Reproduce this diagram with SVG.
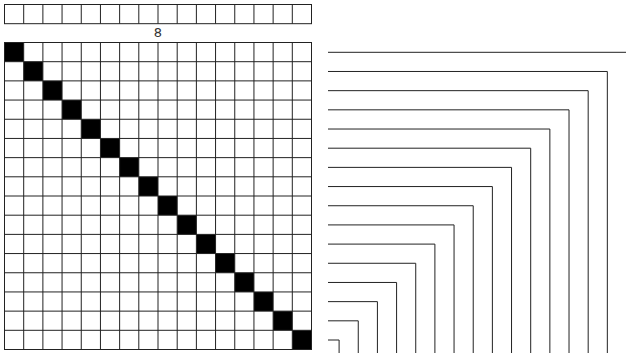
<svg xmlns="http://www.w3.org/2000/svg" width="626" height="353" viewBox="0 0 626 353">
<style>
.g{fill:none;stroke:#222;stroke-width:1}
.b{fill:#000}
.t{font-family:"DejaVu Sans",sans-serif;font-size:13px;fill:#333;text-anchor:middle}
</style>
<rect width="626" height="353" fill="#fff"/>
<g id="top-row">
<rect class="g" x="4.5" y="4.5" width="307" height="19.19"/>
<path class="g" d="M23.69 4.5V23.69M42.88 4.5V23.69M62.06 4.5V23.69M81.25 4.5V23.69M100.44 4.5V23.69M119.63 4.5V23.69M138.81 4.5V23.69M158 4.5V23.69M177.19 4.5V23.69M196.38 4.5V23.69M215.56 4.5V23.69M234.75 4.5V23.69M253.94 4.5V23.69M273.13 4.5V23.69M292.31 4.5V23.69"/>
</g>
<text class="t" x="158" y="36.7">8</text>
<g id="matrix">
<g id="diagonal">
<rect class="b" x="4.5" y="42.5" width="19.19" height="19.19"/>
<rect class="b" x="23.69" y="61.69" width="19.19" height="19.19"/>
<rect class="b" x="42.88" y="80.88" width="19.19" height="19.19"/>
<rect class="b" x="62.06" y="100.06" width="19.19" height="19.19"/>
<rect class="b" x="81.25" y="119.25" width="19.19" height="19.19"/>
<rect class="b" x="100.44" y="138.44" width="19.19" height="19.19"/>
<rect class="b" x="119.63" y="157.63" width="19.19" height="19.19"/>
<rect class="b" x="138.81" y="176.81" width="19.19" height="19.19"/>
<rect class="b" x="158" y="196" width="19.19" height="19.19"/>
<rect class="b" x="177.19" y="215.19" width="19.19" height="19.19"/>
<rect class="b" x="196.38" y="234.38" width="19.19" height="19.19"/>
<rect class="b" x="215.56" y="253.56" width="19.19" height="19.19"/>
<rect class="b" x="234.75" y="272.75" width="19.19" height="19.19"/>
<rect class="b" x="253.94" y="291.94" width="19.19" height="19.19"/>
<rect class="b" x="273.13" y="311.13" width="19.19" height="19.19"/>
<rect class="b" x="292.31" y="330.31" width="19.19" height="19.19"/>
</g>
<rect class="g" x="4.5" y="42.5" width="307" height="307"/>
<path class="g" d="M23.69 42.5V349.5M42.88 42.5V349.5M62.06 42.5V349.5M81.25 42.5V349.5M100.44 42.5V349.5M119.63 42.5V349.5M138.81 42.5V349.5M158 42.5V349.5M177.19 42.5V349.5M196.38 42.5V349.5M215.56 42.5V349.5M234.75 42.5V349.5M253.94 42.5V349.5M273.13 42.5V349.5M292.31 42.5V349.5"/>
<path class="g" d="M4.5 61.69H311.5M4.5 80.88H311.5M4.5 100.06H311.5M4.5 119.25H311.5M4.5 138.44H311.5M4.5 157.63H311.5M4.5 176.81H311.5M4.5 196H311.5M4.5 215.19H311.5M4.5 234.38H311.5M4.5 253.56H311.5M4.5 272.75H311.5M4.5 291.94H311.5M4.5 311.13H311.5M4.5 330.31H311.5"/>
</g>
<g id="connectors">
<path class="g" d="M328 52.3H626.5V353"/>
<path class="g" d="M328 71.48H607.34V353"/>
<path class="g" d="M328 90.66H588.18V353"/>
<path class="g" d="M328 109.84H569.02V353"/>
<path class="g" d="M328 129.02H549.86V353"/>
<path class="g" d="M328 148.2H530.7V353"/>
<path class="g" d="M328 167.38H511.54V353"/>
<path class="g" d="M328 186.56H492.38V353"/>
<path class="g" d="M328 205.74H473.22V353"/>
<path class="g" d="M328 224.92H454.06V353"/>
<path class="g" d="M328 244.1H434.9V353"/>
<path class="g" d="M328 263.28H415.74V353"/>
<path class="g" d="M328 282.46H396.58V353"/>
<path class="g" d="M328 301.64H377.42V353"/>
<path class="g" d="M328 320.82H358.26V353"/>
<path class="g" d="M328 340H339.1V353"/>
</g>
</svg>
